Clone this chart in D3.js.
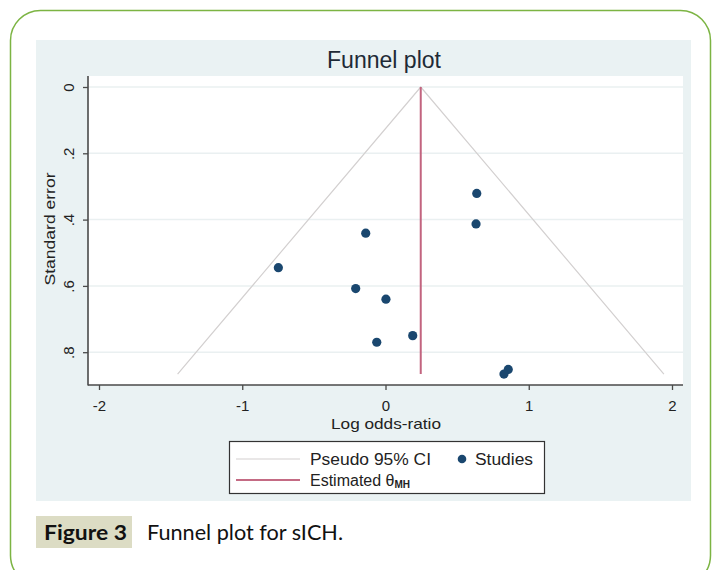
<!DOCTYPE html>
<html>
<head>
<meta charset="utf-8">
<script src="https://cdn.jsdelivr.net/npm/d3@7"></script>
<style>
  body { margin: 0; background: #fff; }
  text { font-family: 'Liberation Sans', Arial, sans-serif; }
  .cap { font-family: Lato, 'Open Sans', sans-serif; }
</style>
</head>
<body>
<script>
// study estimates
var logOR = [0.637, 0.632, -0.138, -0.748, -0.208, 0.003, 0.190, -0.061, 0.857, 0.827]
var se    = [0.321, 0.413, 0.441, 0.545, 0.608, 0.640, 0.750, 0.770, 0.852, 0.866]
var thetaMH = 0.246

var xTicks = [-2, -1, 0, 1, 2]
var yTicks = [0, 0.2, 0.4, 0.6, 0.8]
var yTickLabels = ['0', '.2', '.4', '.6', '.8']

var W = 718, H = 570

var svg = d3.select('body').append('svg').attr('width', W).attr('height', H)

// outer green frame
svg.append('rect')
  .attr('x', 10.5).attr('y', 10.5).attr('width', 700).attr('height', 575)
  .attr('rx', 30).attr('ry', 30)
  .attr('fill', 'none').attr('stroke', '#7cb443').attr('stroke-width', 1.5)

// stata graph region
svg.append('rect')
  .attr('x', 36).attr('y', 40).attr('width', 655).attr('height', 461)
  .attr('fill', '#eaf2f3')

var plot = {left: 88, right: 683, top: 76, bottom: 385}

svg.append('rect')
  .attr('x', plot.left).attr('y', plot.top)
  .attr('width', plot.right - plot.left).attr('height', plot.bottom - plot.top)
  .attr('fill', '#fff')

var x = d3.scaleLinear().domain([-2, 2]).range([99, 672])
var y = d3.scaleLinear().domain([0, 1]).range([87, 418.5])

// horizontal grid
svg.append('g').selectAll('line').data(yTicks).join('line')
  .attr('x1', plot.left).attr('x2', plot.right)
  .attr('y1', d => y(d)).attr('y2', d => y(d))
  .attr('stroke', '#eaf0f1').attr('stroke-width', 1.5)

var seMax = d3.max(se)

// pseudo 95% CI funnel
var funnel = [
  [thetaMH - 1.96 * seMax, seMax],
  [thetaMH, 0],
  [thetaMH + 1.96 * seMax, seMax]
]
svg.append('path')
  .attr('d', d3.line().x(d => x(d[0])).y(d => y(d[1]))(funnel))
  .attr('fill', 'none').attr('stroke', '#d3d0d0').attr('stroke-width', 1.2)

// estimated theta
svg.append('line')
  .attr('x1', x(thetaMH)).attr('x2', x(thetaMH))
  .attr('y1', y(0)).attr('y2', y(seMax))
  .attr('stroke', '#c2647f').attr('stroke-width', 2)

// studies
svg.append('g').selectAll('circle').data(logOR).join('circle')
  .attr('cx', d => x(d)).attr('cy', (d, i) => y(se[i]))
  .attr('r', 4.6).attr('fill', '#1a476f')

// axes
var yAxis = d3.axisLeft(y).tickValues(yTicks).tickFormat((d, i) => yTickLabels[i]).tickSize(5)
var gy = svg.append('g').attr('transform', 'translate(' + plot.left + ',0)').call(yAxis)
gy.select('.domain').remove()
gy.append('line').attr('y1', plot.top).attr('y2', plot.bottom + 0.5)
  .attr('stroke', '#4a4a4a').attr('stroke-width', 1.6)
gy.selectAll('.tick line').attr('stroke', '#4a4a4a').attr('stroke-width', 1.3)
gy.selectAll('.tick text')
  .attr('font-size', 15).attr('fill', '#222')
  .attr('x', 0).attr('y', 0).attr('dy', 0).attr('text-anchor', 'middle')
  .attr('transform', 'translate(-14,0) rotate(-90)')

var xAxis = d3.axisBottom(x).tickValues(xTicks).tickFormat(d => String(d)).tickSize(5).tickPadding(10)
var gx = svg.append('g').attr('transform', 'translate(0,' + plot.bottom + ')').call(xAxis)
gx.select('.domain').remove()
gx.append('line').attr('x1', plot.left).attr('x2', plot.right)
  .attr('stroke', '#4a4a4a').attr('stroke-width', 1.6)
gx.selectAll('.tick line').attr('stroke', '#4a4a4a').attr('stroke-width', 1.3)
gx.selectAll('.tick text').attr('font-size', 15).attr('fill', '#222')
  .attr('y', 0).attr('dy', 26)

// titles
svg.append('text').attr('x', 384).attr('y', 68).attr('text-anchor', 'middle')
  .attr('font-size', 23).attr('fill', '#1e2a36')
  .attr('textLength', 114).attr('lengthAdjust', 'spacingAndGlyphs')
  .text('Funnel plot')

svg.append('text').attr('transform', 'translate(55,229) rotate(-90)')
  .attr('text-anchor', 'middle').attr('font-size', 15).attr('fill', '#222')
  .attr('textLength', 113).attr('lengthAdjust', 'spacingAndGlyphs')
  .text('Standard error')

svg.append('text').attr('x', 386).attr('y', 429).attr('text-anchor', 'middle')
  .attr('font-size', 15).attr('fill', '#222')
  .attr('textLength', 110).attr('lengthAdjust', 'spacingAndGlyphs')
  .text('Log odds-ratio')

// legend
var lg = svg.append('g')
lg.append('rect').attr('x', 229.5).attr('y', 441.5).attr('width', 315).attr('height', 52)
  .attr('fill', '#fff').attr('stroke', '#333').attr('stroke-width', 1.2)
lg.append('line').attr('x1', 236).attr('x2', 300).attr('y1', 459).attr('y2', 459)
  .attr('stroke', '#d3d0d0').attr('stroke-width', 1.2)
lg.append('text').attr('x', 310).attr('y', 465).attr('font-size', 16).attr('fill', '#222')
  .attr('textLength', 121).attr('lengthAdjust', 'spacingAndGlyphs')
  .text('Pseudo 95% CI')
lg.append('circle').attr('cx', 462).attr('cy', 459).attr('r', 4.3).attr('fill', '#1a476f')
lg.append('text').attr('x', 475).attr('y', 465).attr('font-size', 16).attr('fill', '#222')
  .attr('textLength', 58).attr('lengthAdjust', 'spacingAndGlyphs')
  .text('Studies')
lg.append('line').attr('x1', 236).attr('x2', 300).attr('y1', 480).attr('y2', 480)
  .attr('stroke', '#b03a5b').attr('stroke-width', 1.3)
var est = lg.append('text').attr('x', 310).attr('y', 486).attr('font-size', 16).attr('fill', '#222')
est.append('tspan').text('Estimated θ')
est.append('tspan').attr('font-size', 10).attr('font-weight', 'bold').attr('dy', 2).text('MH')

// figure caption
svg.append('rect').attr('x', 36).attr('y', 516).attr('width', 96).attr('height', 32)
  .attr('fill', '#dcdcc4')
svg.append('text').attr('class', 'cap').attr('x', 44).attr('y', 540)
  .attr('font-size', 21).attr('font-weight', 'bold').attr('fill', '#111')
  .attr('textLength', 83).attr('lengthAdjust', 'spacingAndGlyphs')
  .text('Figure 3')
svg.append('text').attr('class', 'cap').attr('x', 147).attr('y', 540)
  .attr('font-size', 21).attr('fill', '#111')
  .attr('textLength', 196).attr('lengthAdjust', 'spacingAndGlyphs')
  .text('Funnel plot for sICH.')
</script>
</body>
</html>
